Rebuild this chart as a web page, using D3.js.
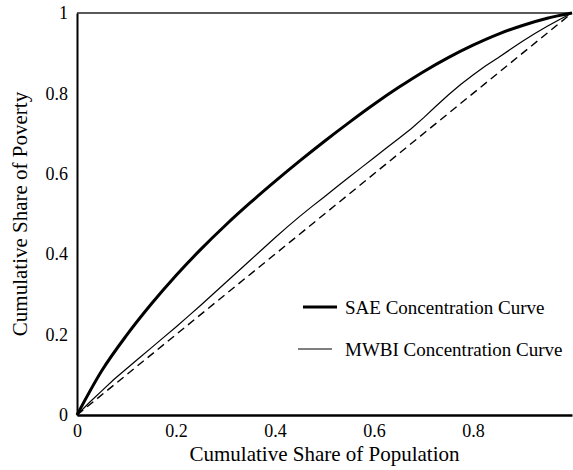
<!DOCTYPE html>
<html>
<head>
<meta charset="utf-8">
<script src="https://cdn.jsdelivr.net/npm/d3@7"></script>
<style>
  body { margin: 0; background: #fff; }
  text { font-family: "Liberation Serif", "Times New Roman", serif; fill: #000; }
</style>
</head>
<body>
<div id="chart"></div>
<script>
// cumulative share of population / poverty
var saeX = [0, 0.05, 0.1, 0.15, 0.2, 0.25, 0.3, 0.35, 0.4, 0.45, 0.5, 0.55, 0.6, 0.65, 0.7, 0.75, 0.8, 0.85, 0.9, 0.95, 1];
var saeY = [0, 0.110, 0.198, 0.276, 0.347, 0.412, 0.472, 0.528, 0.581, 0.632, 0.681, 0.728, 0.773, 0.815, 0.854, 0.889, 0.920, 0.947, 0.969, 0.987, 1];

var mwbiX = [0, 0.025, 0.05, 0.075, 0.1, 0.125, 0.15, 0.175, 0.2, 0.225, 0.25, 0.275, 0.3, 0.325, 0.35, 0.375, 0.4, 0.425, 0.45, 0.475, 0.5,
             0.525, 0.55, 0.575, 0.6, 0.625, 0.65, 0.675, 0.7, 0.725, 0.75, 0.775, 0.8, 0.825, 0.85, 0.875, 0.9, 0.925, 0.95, 0.975, 1];
var mwbiY = [0, 0.031, 0.060, 0.089, 0.115, 0.141, 0.167, 0.193, 0.219, 0.246, 0.273, 0.301, 0.329, 0.357, 0.385, 0.413, 0.441, 0.468, 0.494, 0.519, 0.543,
             0.568, 0.592, 0.616, 0.640, 0.664, 0.688, 0.712, 0.739, 0.768, 0.796, 0.822, 0.846, 0.868, 0.888, 0.909, 0.930, 0.949, 0.967, 0.984, 1];

var equalX = [0, 1];
var equalY = [0, 1];

var xTicks = [0, 0.2, 0.4, 0.6, 0.8];
var yTicks = [0, 0.2, 0.4, 0.6, 0.8, 1];

var legendNames = ["SAE Concentration Curve", "MWBI Concentration Curve"];

var margin = {top: 13, right: 1, bottom: 55, left: 77},
    width = 573 - margin.left - margin.right,
    height = 470 - margin.top - margin.bottom;

var svg = d3.select("#chart")
  .append("svg")
    .attr("width", 573)
    .attr("height", 470)
  .append("g")
    .attr("transform", "translate(" + margin.left + "," + margin.top + ")");

var x = d3.scaleLinear().domain([0, 1]).range([0, width]);
var y = d3.scaleLinear().domain([0, 1]).range([height, 0]);

function zip(xs, ys) {
  return xs.map(function(v, i) { return {x: v, y: ys[i]}; });
}

// top border
svg.append("line")
  .attr("x1", 0).attr("x2", width)
  .attr("y1", 0).attr("y2", 0)
  .attr("stroke", "#595959")
  .attr("stroke-width", 2);

var xAxis = d3.axisBottom(x).tickValues(xTicks).tickSize(0).tickPadding(9)
  .tickFormat(function(d) { return d3.format("")(d); });
var yAxis = d3.axisLeft(y).tickValues(yTicks).tickSize(0).tickPadding(9)
  .tickFormat(function(d) { return d3.format("")(d); });

var gx = svg.append("g")
  .attr("transform", "translate(0," + height + ")")
  .call(xAxis)
  .attr("font-family", "Liberation Serif")
  .attr("font-size", 18);
gx.select(".domain").attr("stroke", "#000").attr("stroke-width", 2.5);

var gy = svg.append("g")
  .call(yAxis)
  .attr("font-family", "Liberation Serif")
  .attr("font-size", 18);
gy.select(".domain").attr("stroke", "#000").attr("stroke-width", 2);

var line = d3.line()
  .x(function(d) { return x(d.x); })
  .y(function(d) { return y(d.y); });

// equality line
svg.append("path")
  .datum(zip(equalX, equalY))
  .attr("fill", "none")
  .attr("stroke", "#000")
  .attr("stroke-width", 1.4)
  .attr("stroke-dasharray", "8,5")
  .attr("d", line);

svg.append("path")
  .datum(zip(mwbiX, mwbiY))
  .attr("fill", "none")
  .attr("stroke", "#000")
  .attr("stroke-width", 1.2)
  .attr("d", line);

svg.append("path")
  .datum(zip(saeX, saeY))
  .attr("fill", "none")
  .attr("stroke", "#000")
  .attr("stroke-width", 3)
  .attr("d", line.curve(d3.curveMonotoneX));

// legend
var legend = svg.append("g");
legend.append("line")
  .attr("x1", 226).attr("x2", 260)
  .attr("y1", 294).attr("y2", 294)
  .attr("stroke", "#000").attr("stroke-width", 3);
legend.append("line")
  .attr("x1", 221).attr("x2", 255)
  .attr("y1", 336).attr("y2", 336)
  .attr("stroke", "#000").attr("stroke-width", 1.2);
legend.selectAll("text.lg")
  .data(legendNames)
  .enter().append("text")
    .attr("class", "lg")
    .attr("x", 268)
    .attr("y", function(d, i) { return 294 + i * 42; })
    .attr("dy", "0.35em")
    .style("font-size", "19px")
    .text(function(d) { return d; });

// axis titles
svg.append("text")
  .attr("x", width / 2)
  .attr("y", height + 46)
  .style("text-anchor", "middle")
  .style("font-size", "21px")
  .text("Cumulative Share of Population");

svg.append("text")
  .attr("transform", "translate(" + (-margin.left + 27) + "," + (height / 2) + ") rotate(-90)")
  .style("text-anchor", "middle")
  .style("font-size", "21px")
  .text("Cumulative Share of Poverty");
</script>
</body>
</html>
